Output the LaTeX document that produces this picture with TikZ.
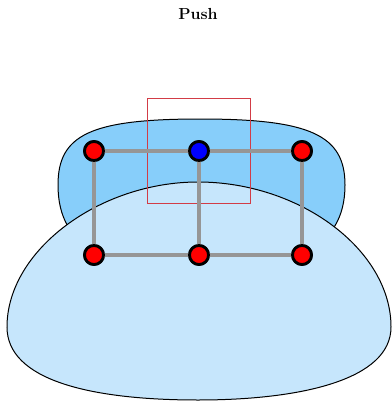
\documentclass[tikz,border=0pt]{standalone}
\begin{document}
\begin{tikzpicture}[x=1pt,y=-1pt,
  backblob/.style={draw=black,line width=1pt,fill={rgb,255:red,135;green,206;blue,250}},
  frontblob/.style={draw=black,line width=1pt,fill={rgb,255:red,198;green,230;blue,252}},
  link/.style={draw={rgb,255:red,150;green,150;blue,150},line width=3.6pt},
  vtx/.style={circle,draw=black,line width=2.8pt,inner sep=0pt,minimum size=19pt,fill=red},
  focus/.style={draw={rgb,255:red,210;green,60;blue,70},line width=1pt}]
\useasboundingbox (0,0) rectangle (391,401);

% title
\node (title) at (198,14) {\fontsize{16}{16}\selectfont\bfseries Push};

% back region
\draw[backblob] (200,119) .. controls (310,119) and (345,135) .. (345,185)
  .. controls (345,250) and (290,270) .. (200,270)
  .. controls (110,270) and (58,250) .. (58,185)
  .. controls (58,135) and (90,119) .. (200,119) -- cycle;

% front region
\draw[frontblob] (198,182) .. controls (300,182) and (391,250) .. (391,327)
  .. controls (391,380) and (300,400) .. (198,400)
  .. controls (90,400) and (7,380) .. (7,327)
  .. controls (7,250) and (100,182) .. (198,182) -- cycle;

% highlight window
\draw[focus] (147,99) rectangle (250,203);

% vertices
\node[vtx] (a) at (94,151) {};
\node[vtx,fill=blue] (b) at (199,151) {};
\node[vtx] (c) at (302,151) {};
\node[vtx] (d) at (94,255) {};
\node[vtx] (e) at (199,255) {};
\node[vtx] (f) at (302,255) {};

% grid links
\path[link] (a.center) -- (b.center) -- (c.center)
  (d.center) -- (e.center) -- (f.center)
  (a.center) -- (d.center) (b.center) -- (e.center) (c.center) -- (f.center);

% vertices drawn again over the links
\node[vtx] at (a) {};
\node[vtx,fill=blue] at (b) {};
\node[vtx] at (c) {};
\node[vtx] at (d) {};
\node[vtx] at (e) {};
\node[vtx] at (f) {};
\end{tikzpicture}
\end{document}
